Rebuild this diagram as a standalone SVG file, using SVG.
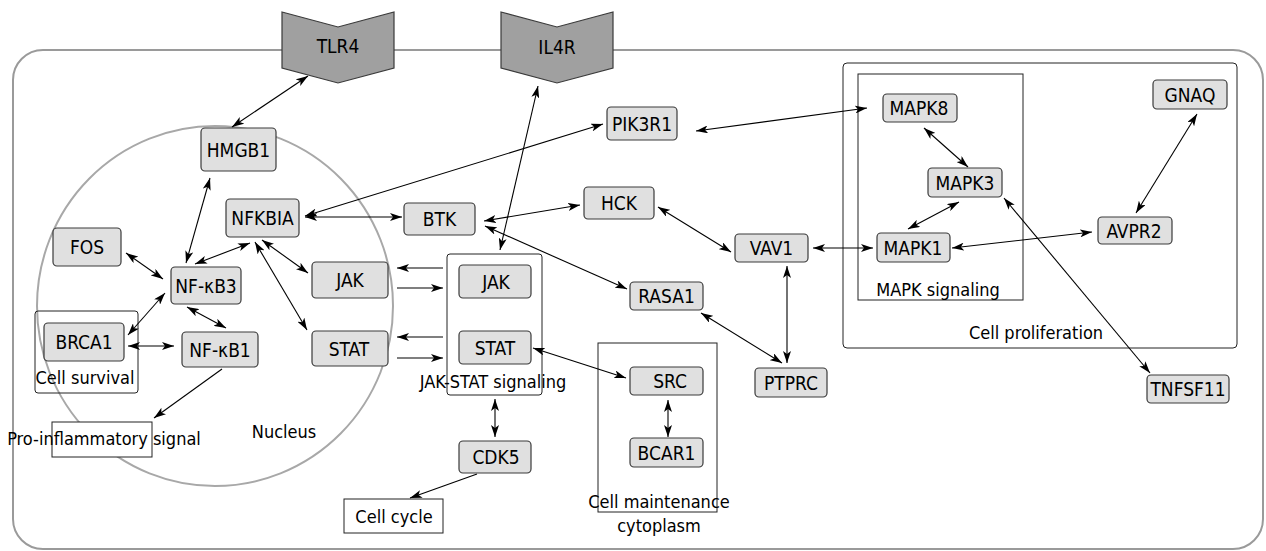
<svg xmlns="http://www.w3.org/2000/svg" width="1266" height="551" viewBox="0 0 1266 551">
<defs>
<style>
text{font-family:'DejaVu Sans',sans-serif;font-stretch:condensed;font-size:18px;fill:#000;text-anchor:middle}
.n text{font-size:19px}
.node{fill:#e0e0e0;stroke:#3a3a3a;stroke-width:1.2}
.rec{fill:#a0a0a0;stroke:#3a3a3a;stroke-width:1.2}
.grp{fill:none;stroke:#222;stroke-width:1}
.grpw{fill:#fff;stroke:#222;stroke-width:1}
.e{stroke:#000;stroke-width:1.1;fill:none;marker-end:url(#ah)}
.d{stroke:#000;stroke-width:1.1;fill:none;marker-end:url(#ah);marker-start:url(#ah)}
</style>
<marker id="ah" markerUnits="userSpaceOnUse" viewBox="0 0 12 8" refX="12" refY="4" markerWidth="12" markerHeight="8" orient="auto-start-reverse">
<path d="M0,0 L12,4 L0,8 L3,4 z" fill="#000"/>
</marker>
</defs>
<rect width="1266" height="551" fill="#fff"/>
<g id="cell">
<rect x="13" y="50" width="1250" height="499" rx="30" fill="none" stroke="#9a9a9a" stroke-width="2"/>
</g>
<g id="nucleus">
<ellipse cx="215" cy="306" rx="178" ry="180" fill="none" stroke="#a8a8a8" stroke-width="2"/>
<text x="284" y="438">Nucleus</text>
</g>
<g id="cell-proliferation">
<rect class="grp" x="843" y="63" width="394" height="285" rx="4"/>
<text x="1036" y="339">Cell proliferation</text>
</g>
<g id="mapk-signaling">
<rect class="grp" x="858" y="74" width="165" height="226"/>
<text x="938" y="296">MAPK signaling</text>
</g>
<g id="cell-survival">
<rect class="grp" x="35" y="311" width="103" height="82" rx="3"/>
<text x="85" y="384">Cell survival</text>
</g>
<g id="jak-stat-signaling">
<rect class="grp" x="447" y="254" width="95" height="141" rx="3"/>
<text x="493" y="388">JAK-STAT signaling</text>
</g>
<g id="cell-maintenance">
<rect class="grp" x="598" y="343" width="119" height="169"/>
<text x="659" y="508">Cell maintenance</text>
<text x="659" y="532">cytoplasm</text>
</g>
<g id="pro-inflammatory">
<rect class="grpw" x="52" y="422" width="100" height="35"/>
<text x="104" y="445">Pro-inflammatory signal</text>
</g>
<g id="cell-cycle">
<rect class="grpw" x="344" y="499" width="99" height="34"/>
<text x="394" y="523">Cell cycle</text>
</g>
<g id="connectors">
<line class="d" x1="308" y1="76" x2="232" y2="127"/>
<line class="d" x1="210" y1="178" x2="186" y2="263"/>
<line class="d" x1="126" y1="253" x2="163" y2="279"/>
<line class="d" x1="195" y1="264" x2="250" y2="243"/>
<line class="d" x1="165" y1="293" x2="128" y2="335"/>
<line class="d" x1="128" y1="346" x2="174" y2="346"/>
<line class="d" x1="187" y1="307" x2="226" y2="328"/>
<line class="d" x1="262" y1="240" x2="308" y2="273"/>
<line class="d" x1="255" y1="242" x2="307" y2="330"/>
<line class="d" x1="305" y1="217" x2="402" y2="217"/>
<line class="d" x1="305" y1="216" x2="603" y2="124"/>
<line class="d" x1="538" y1="86" x2="500" y2="250"/>
<line class="e" x1="443" y1="268" x2="397" y2="268"/>
<line class="e" x1="397" y1="288" x2="443" y2="288"/>
<line class="e" x1="443" y1="337" x2="397" y2="337"/>
<line class="e" x1="397" y1="358" x2="443" y2="358"/>
<line class="d" x1="484" y1="221" x2="580" y2="205"/>
<line class="d" x1="485" y1="226" x2="627" y2="289"/>
<line class="d" x1="658" y1="207" x2="731" y2="252"/>
<line class="d" x1="696" y1="131" x2="867" y2="108"/>
<line class="d" x1="924" y1="128" x2="968" y2="167"/>
<line class="d" x1="959" y1="202" x2="908" y2="229"/>
<line class="d" x1="813" y1="248" x2="873" y2="248"/>
<line class="d" x1="952" y1="248" x2="1092" y2="232"/>
<line class="d" x1="1197" y1="114" x2="1136" y2="213"/>
<line class="d" x1="1004" y1="198" x2="1150" y2="373"/>
<line class="d" x1="533" y1="348" x2="626" y2="378"/>
<line class="d" x1="668" y1="400" x2="668" y2="437"/>
<line class="d" x1="701" y1="313" x2="782" y2="363"/>
<line class="d" x1="787" y1="266" x2="787" y2="363"/>
<line class="d" x1="495" y1="399" x2="495" y2="437"/>
<line class="e" x1="477" y1="474" x2="410" y2="498"/>
<line class="e" x1="222" y1="369" x2="154" y2="418"/>
</g>
<g class="n">
<g id="TLR4"><polygon class="rec" points="282,12 338,27 394,12 394,68 338,83 282,68"/><text x="338" y="53">TLR4</text></g>
<g id="IL4R"><polygon class="rec" points="501,12 557,27 613,12 613,68 557,83 501,68"/><text x="557" y="54">IL4R</text></g>
<g id="HMGB1"><rect class="node" x="201" y="128" width="75" height="43" rx="4"/><text x="238.5" y="156.5">HMGB1</text></g>
<g id="NFKBIA"><rect class="node" x="226" y="199" width="73" height="38" rx="4"/><text x="262.5" y="225">NFKBIA</text></g>
<g id="FOS"><rect class="node" x="53" y="228" width="68" height="38" rx="4"/><text x="87" y="254">FOS</text></g>
<g id="NFKB3"><rect class="node" x="171" y="267" width="70" height="37" rx="4"/><text x="206" y="292.5">NF-κB3</text></g>
<g id="BRCA1"><rect class="node" x="44" y="323" width="80" height="38" rx="4"/><text x="84" y="349">BRCA1</text></g>
<g id="NFKB1"><rect class="node" x="182" y="332" width="76" height="35" rx="4"/><text x="220" y="356.5">NF-κB1</text></g>
<g id="JAK-nucleus"><rect class="node" x="312" y="262" width="76" height="36" rx="4"/><text x="350" y="287">JAK</text></g>
<g id="STAT-nucleus"><rect class="node" x="312" y="331" width="76" height="35" rx="4"/><text x="349" y="355.5">STAT</text></g>
<g id="BTK"><rect class="node" x="404" y="203" width="71" height="32" rx="4"/><text x="439.5" y="226">BTK</text></g>
<g id="HCK"><rect class="node" x="584" y="187" width="70" height="32" rx="4"/><text x="619" y="210">HCK</text></g>
<g id="PIK3R1"><rect class="node" x="607" y="107" width="70" height="33" rx="4"/><text x="642" y="130.5">PIK3R1</text></g>
<g id="JAK"><rect class="node" x="459" y="265" width="72" height="33" rx="4"/><text x="496" y="288.5">JAK</text></g>
<g id="STAT"><rect class="node" x="459" y="331" width="72" height="33" rx="4"/><text x="495" y="354.5">STAT</text></g>
<g id="CDK5"><rect class="node" x="459" y="441" width="72" height="32" rx="4"/><text x="496" y="464">CDK5</text></g>
<g id="RASA1"><rect class="node" x="630" y="282" width="73" height="28" rx="4"/><text x="666.5" y="303">RASA1</text></g>
<g id="SRC"><rect class="node" x="630" y="367" width="73" height="28" rx="4"/><text x="670" y="388">SRC</text></g>
<g id="BCAR1"><rect class="node" x="630" y="438" width="73" height="29" rx="4"/><text x="666.5" y="459.5">BCAR1</text></g>
<g id="VAV1"><rect class="node" x="735" y="234" width="73" height="28" rx="4"/><text x="771.5" y="255">VAV1</text></g>
<g id="PTPRC"><rect class="node" x="755" y="368" width="72" height="29" rx="4"/><text x="791" y="389.5">PTPRC</text></g>
<g id="MAPK8"><rect class="node" x="883" y="94" width="74" height="28" rx="4"/><text x="919" y="115">MAPK8</text></g>
<g id="MAPK3"><rect class="node" x="928" y="168" width="74" height="29" rx="4"/><text x="965" y="189.5">MAPK3</text></g>
<g id="MAPK1"><rect class="node" x="877" y="233" width="73" height="29" rx="4"/><text x="913" y="254.5">MAPK1</text></g>
<g id="GNAQ"><rect class="node" x="1153" y="80" width="74" height="29" rx="4"/><text x="1190" y="101.5">GNAQ</text></g>
<g id="AVPR2"><rect class="node" x="1098" y="217" width="74" height="27" rx="4"/><text x="1134" y="237.5">AVPR2</text></g>
<g id="TNFSF11"><rect class="node" x="1147" y="375" width="82" height="28" rx="4"/><text x="1188" y="396">TNFSF11</text></g>
</g>
</svg>
